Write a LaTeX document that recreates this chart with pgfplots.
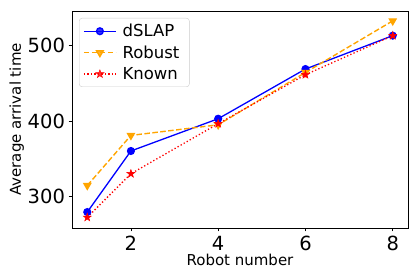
\documentclass[border=0pt]{standalone}
\usepackage{fontspec}
\setmainfont{DejaVu Sans}
\usepackage{pgfplots}
\pgfplotsset{compat=1.18}
\definecolor{mplorange}{RGB}{255,165,0}
\pgfdeclareplotmark{fstar}{%
  \pgfpathmoveto{\pgfqpointpolar{90}{1.0\pgfplotmarksize}}%
  \pgfpathlineto{\pgfqpointpolar{126}{0.4\pgfplotmarksize}}%
  \pgfpathlineto{\pgfqpointpolar{162}{1.0\pgfplotmarksize}}%
  \pgfpathlineto{\pgfqpointpolar{198}{0.4\pgfplotmarksize}}%
  \pgfpathlineto{\pgfqpointpolar{234}{1.0\pgfplotmarksize}}%
  \pgfpathlineto{\pgfqpointpolar{270}{0.4\pgfplotmarksize}}%
  \pgfpathlineto{\pgfqpointpolar{306}{1.0\pgfplotmarksize}}%
  \pgfpathlineto{\pgfqpointpolar{342}{0.4\pgfplotmarksize}}%
  \pgfpathlineto{\pgfqpointpolar{18}{1.0\pgfplotmarksize}}%
  \pgfpathlineto{\pgfqpointpolar{54}{0.4\pgfplotmarksize}}%
  \pgfpathclose
  \pgfusepathqfillstroke}
\begin{document}
\begin{tikzpicture}
\useasboundingbox (-72pt,-52pt) rectangle (345pt,228pt);
\begin{axis}[
  at={(0,0)}, anchor=south west,
  scale only axis,
  width=336pt, height=217pt,
  xmin=0.65, xmax=8.35,
  ymin=259, ymax=545,
  xtick={2,4,6,8},
  ytick={300,400,500},
  tick align=outside,
  tick pos=left,
  major tick length=3.5pt,
  tick style={black, line width=0.8pt},
  axis line style={line width=0.8pt},
  /pgf/number format/assume math mode=true,
  ticklabel style={font=\fontsize{19.5}{22}\selectfont},
  xticklabel style={yshift=-1pt},
  label style={font=\fontsize{15}{18}\selectfont},
  xlabel={Robot number},
  ylabel={Average arrival time},
  xlabel style={yshift=4pt},
  ylabel style={yshift=-3pt},
  legend cell align=left,
  legend style={at={(0,1)}, anchor=north west, xshift=7pt, yshift=-7pt,
    font=\fontsize{16.5}{19}\selectfont, draw=black!20, rounded corners=3pt,
    fill=white, fill opacity=0.8, text opacity=1,
    inner xsep=4pt, inner ysep=5pt, row sep=5.5pt,
    nodes={inner xsep=6pt, inner ysep=1pt}},
  legend image code/.code={%
    \draw[mark repeat=2,mark phase=2] plot coordinates {(0pt,0pt)(16pt,0pt)(32pt,0pt)};},
]
\addplot[blue, line width=1.3pt, mark=*, mark size=3.4pt, mark options={solid}]
  coordinates {(1,280) (2,360.5) (4,403) (6,468.5) (8,512.5)};
\addlegendentry{dSLAP}
\addplot[mplorange, line width=1.4pt, dashed, dash pattern=on 5.5pt off 2.5pt, mark=triangle*, mark size=3.8pt, mark options={solid, rotate=180}]
  coordinates {(1,315) (2,381) (4,395) (6,464) (8,532)};
\addlegendentry{Robust}
\addplot[red, line width=1.3pt, dash pattern=on 1.3pt off 2.2pt, mark=fstar, mark size=4.2pt, mark options={solid, fill=red, line width=0.5pt}]
  coordinates {(1,273) (2,330.5) (4,396.5) (6,461) (8,512.5)};
\addlegendentry{Known}
\end{axis}
\end{tikzpicture}
\end{document}
